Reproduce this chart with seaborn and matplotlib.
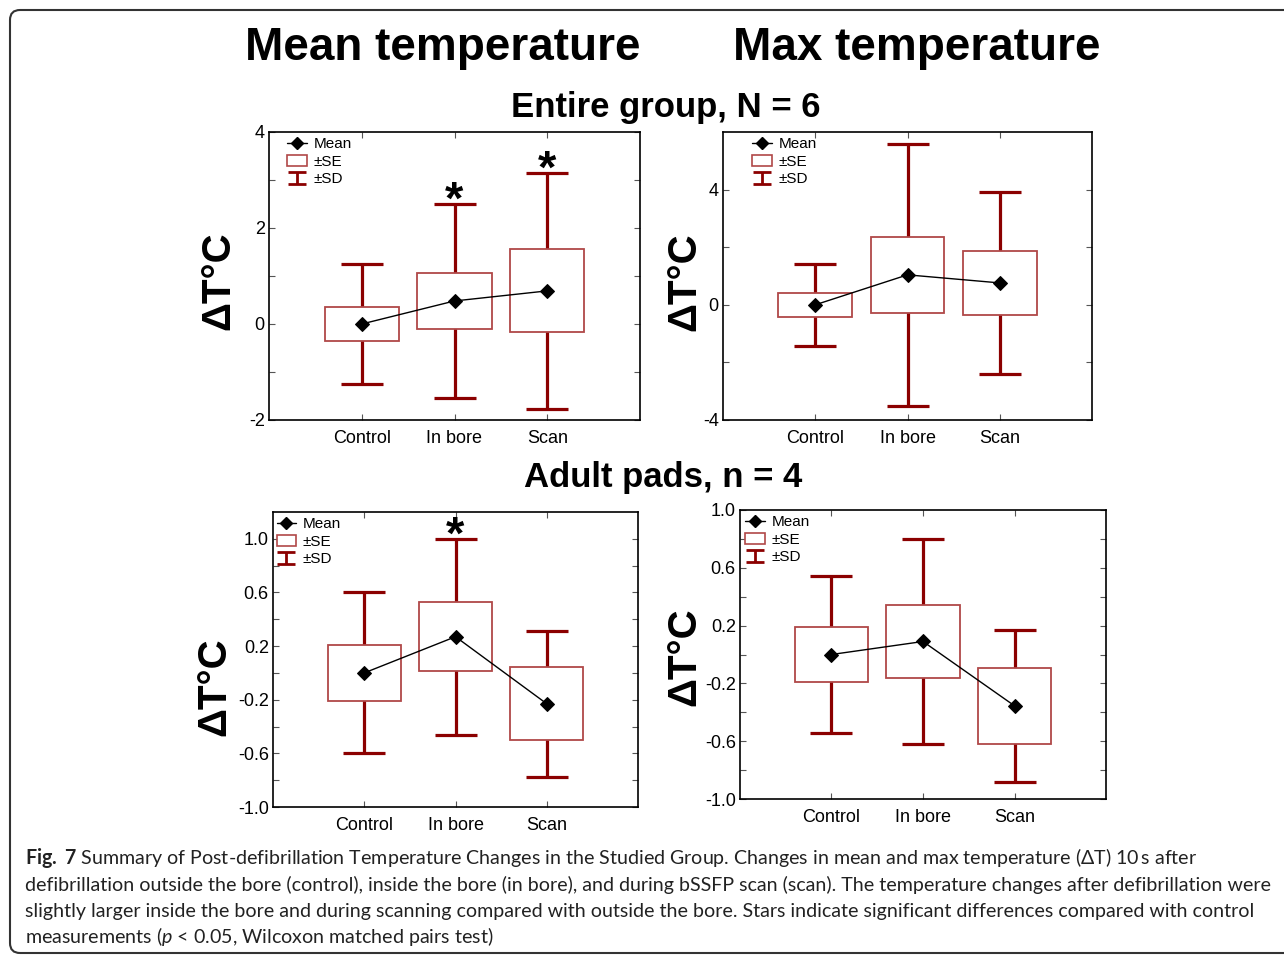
import numpy as np
import pandas as pd
import matplotlib
matplotlib.use("Agg")
import matplotlib.pyplot as plt
import seaborn as sns
from matplotlib.lines import Line2D
from matplotlib.patches import Patch, FancyBboxPatch
from matplotlib.path import Path
from matplotlib.transforms import IdentityTransform
from matplotlib.ticker import FixedLocator, FormatStrFormatter

# ---------------- data ----------------
categories = ["Control", "In bore", "Scan"]

entire_meanT_mean = [0.0, 0.48, 0.69]
entire_meanT_se = [0.36, 0.585, 0.865]
entire_meanT_sd = [1.255, 2.015, 2.465]
entire_meanT_star = [False, True, True]

entire_maxT_mean = [0.0, 1.04, 0.76]
entire_maxT_se = [0.415, 1.32, 1.12]
entire_maxT_sd = [1.43, 4.56, 3.155]
entire_maxT_star = [False, False, False]

adult_meanT_mean = [0.0, 0.27, -0.23]
adult_meanT_se = [0.21, 0.257, 0.272]
adult_meanT_sd = [0.60, 0.73, 0.545]
adult_meanT_star = [False, True, False]

adult_maxT_mean = [0.0, 0.09, -0.355]
adult_maxT_se = [0.19, 0.25, 0.2625]
adult_maxT_sd = [0.54, 0.71, 0.525]
adult_maxT_star = [False, False, False]

legend_labels = ["Mean", "\u00b1SE", "\u00b1SD"]
col_titles = ["Mean temperature", "Max temperature"]
row_titles = ["Entire group, N = 6", "Adult pads, n = 4"]
ylabel_text = "\u0394T\u00b0C"

caption_lines = [
    "$\\mathbf{Fig.}$ $\\mathbf{7}$ Summary of Post-defibrillation Temperature Changes in the Studied Group. Changes in mean and max temperature (\u0394T) 10\u2009s after",
    "defibrillation outside the bore (control), inside the bore (in bore), and during bSSFP scan (scan). The temperature changes after defibrillation were",
    "slightly larger inside the bore and during scanning compared with outside the bore. Stars indicate significant differences compared with control",
    "measurements ($\\mathit{p}$ < 0.05, Wilcoxon matched pairs test)",
]

# ---------------- style ----------------
sns.set_theme(style="ticks")
plt.rcParams["font.family"] = ["Liberation Sans", "DejaVu Sans"]
plt.rcParams["axes.unicode_minus"] = False
plt.rcParams["text.color"] = "black"
plt.rcParams["axes.labelcolor"] = "black"
plt.rcParams["xtick.color"] = "black"
plt.rcParams["ytick.color"] = "black"
plt.rcParams["mathtext.fontset"] = "custom"
plt.rcParams["mathtext.rm"] = "Lato"
plt.rcParams["mathtext.bf"] = "Lato:bold"
plt.rcParams["mathtext.it"] = "Lato:italic"

SD_COLOR = "#8b0000"
SE_COLOR = "#b04848"
W, H = 1284, 956

fig = plt.figure(figsize=(W / 100, H / 100), dpi=100)


def px_axes(left, top, right, bottom):
    return fig.add_axes([left / W, 1 - bottom / H, (right - left) / W, (bottom - top) / H])


ibeam = Path(
    [(-1, 0.7), (1, 0.7), (0, 0.7), (0, -0.7), (-1, -0.7), (1, -0.7)],
    [Path.MOVETO, Path.LINETO, Path.MOVETO, Path.LINETO, Path.MOVETO, Path.LINETO],
)


def draw_panel(ax, means, ses, sds, stars, ylim, major, minor, fmt, anchor):
    means = np.asarray(means)
    ses = np.asarray(ses)
    sds = np.asarray(sds)
    x = np.arange(len(categories))
    df = pd.DataFrame({"condition": categories, "dT": means})
    ax.errorbar(x, means, yerr=sds, fmt="none", ecolor=SD_COLOR, elinewidth=2.3,
                capsize=15, capthick=2.3, zorder=1)
    ax.bar(x, 2 * ses, bottom=means - ses, width=0.8, facecolor="white",
           edgecolor=SE_COLOR, linewidth=1.3, zorder=2)
    sns.pointplot(data=df, x="condition", y="dT", order=categories, color="black",
                  markers="D", linestyles="-", markersize=7, linewidth=1,
                  errorbar=None, ax=ax, zorder=3)
    for xi, sdv, mv, st in zip(x, sds, means, stars):
        if st:
            ax.annotate("*", (xi, mv + sdv), xytext=(0, -7), textcoords="offset points",
                        ha="center", va="baseline", fontsize=34, fontweight="bold",
                        color="black")
    ax.set_xlim(-1, 3)
    ax.set_ylim(*ylim)
    ax.set_xlabel("")
    ax.set_ylabel("")
    ax.yaxis.set_major_locator(FixedLocator(major))
    ax.yaxis.set_minor_locator(FixedLocator(minor))
    ax.yaxis.set_major_formatter(FormatStrFormatter(fmt))
    ax.set_xticks(x)
    ax.set_xticklabels(categories)
    ax.tick_params(axis="both", which="both", direction="in", top=True, right=True,
                   length=4, width=0.8, color="#555555", labelsize=13, labelcolor="black")
    ax.tick_params(axis="y", pad=3)
    ax.tick_params(axis="x", pad=7.5)
    for s in ax.spines.values():
        s.set_visible(True)
        s.set_linewidth(1.2)
        s.set_color("black")
    handles = [
        Line2D([], [], color="black", marker="D", markersize=6, linewidth=1),
        Patch(facecolor="white", edgecolor=SE_COLOR, linewidth=1.2),
        Line2D([], [], linestyle="none", marker=ibeam, markersize=13,
               markeredgecolor=SD_COLOR, markerfacecolor="none", markeredgewidth=2),
    ]
    ax.legend(handles, legend_labels, loc="upper left", bbox_to_anchor=anchor,
              frameon=False, fontsize=11, handlelength=1.3, handletextpad=0.4,
              labelspacing=0.22, borderaxespad=0.0, borderpad=0.35, numpoints=1)


ax1 = px_axes(269, 132, 640, 420)
draw_panel(ax1, entire_meanT_mean, entire_meanT_se, entire_meanT_sd, entire_meanT_star,
           (-2, 4), [-2, 0, 2, 4], [-1, 1, 3], "%g", (0.035, 1.0))
ax2 = px_axes(723, 132, 1092, 420)
draw_panel(ax2, entire_maxT_mean, entire_maxT_se, entire_maxT_sd, entire_maxT_star,
           (-4, 6), [-4, 0, 4], [-2, 2], "%g", (0.065, 1.0))
ax3 = px_axes(273, 512, 638, 807)
draw_panel(ax3, adult_meanT_mean, adult_meanT_se, adult_meanT_sd, adult_meanT_star,
           (-1.0, 1.2), [-1.0, -0.6, -0.2, 0.2, 0.6, 1.0], [-0.8, -0.4, 0.0, 0.4, 0.8],
           "%.1f", (-0.005, 1.0))
ax4 = px_axes(740, 510, 1106, 799)
draw_panel(ax4, adult_maxT_mean, adult_maxT_se, adult_maxT_sd, adult_maxT_star,
           (-1.0, 1.0), [-1.0, -0.6, -0.2, 0.2, 0.6, 1.0], [-0.8, -0.4, 0.0, 0.4, 0.8],
           "%.1f", (0.0, 1.0))

# ---------------- titles ----------------
fig.text(443 / W, 1 - 60 / H, col_titles[0], ha="center", va="baseline",
         fontsize=33, fontweight="bold", color="black")
fig.text(917 / W, 1 - 60 / H, col_titles[1], ha="center", va="baseline",
         fontsize=33, fontweight="bold", color="black")
fig.text(666 / W, 1 - 117 / H, row_titles[0], ha="center", va="baseline",
         fontsize=25, fontweight="bold", color="black")
fig.text(663 / W, 1 - 487 / H, row_titles[1], ha="center", va="baseline",
         fontsize=25, fontweight="bold", color="black")

for (cx, cy) in [(218, 281), (684, 282), (214, 687), (684, 657)]:
    fig.text(cx / W, 1 - cy / H, ylabel_text, rotation=90, ha="center", va="center",
             fontsize=29, fontweight="bold", color="black")

# ---------------- caption ----------------
cap_family = ["Lato", "DejaVu Sans"]
renderer = fig.canvas.get_renderer()
probe = fig.text(0, 0, caption_lines[1], fontsize=10, family=cap_family)
wprobe = probe.get_window_extent(renderer).width
probe.remove()
cap_fs = 10 * 1248 / wprobe
for i, line in enumerate(caption_lines):
    base = 864 + i * 26.5
    fig.text(25 / W, 1 - base / H, line, ha="left", va="baseline", fontsize=cap_fs,
             family=cap_family, color="#222222")

# ---------------- frame ----------------
frame = FancyBboxPatch((10, H - 953), 1290, 943, boxstyle="round,pad=0,rounding_size=10",
                       transform=IdentityTransform(), fill=False, edgecolor="#333333",
                       linewidth=1.5)
fig.add_artist(frame)

fig.savefig("out.png", dpi=100)
